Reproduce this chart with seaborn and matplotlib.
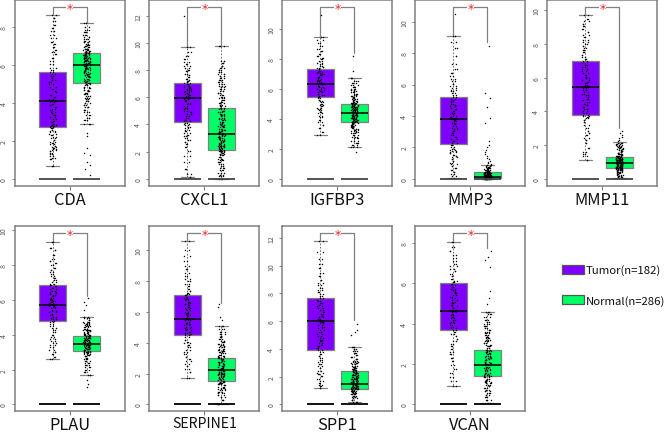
import numpy as np
import pandas as pd
import matplotlib
matplotlib.use("Agg")
import matplotlib.pyplot as plt
from matplotlib.patches import Patch
from matplotlib.ticker import MultipleLocator
import seaborn as sns

sns.set_style("white")
plt.rcParams['font.family'] = ['Noto Sans CJK SC', 'DejaVu Sans']

genes = ["CDA", "CXCL1", "IGFBP3", "MMP3", "MMP11", "PLAU", "SERPINE1", "SPP1", "VCAN"]
groups = ["Tumor", "Normal"]
legend_labels = ["Tumor(n=182)", "Normal(n=286)"]

# whisker low, q1, median, q3, whisker high
tumor_box = [
    [0.65, 2.75, 4.12, 5.65, 8.6],
    [0.1, 4.15, 5.93, 7.05, 9.7],
    [2.9, 5.45, 6.35, 7.35, 9.45],
    [0.05, 2.2, 3.8, 5.2, 9.1],
    [1.1, 3.8, 5.45, 7.0, 9.7],
    [2.6, 4.8, 5.72, 6.85, 9.35],
    [1.7, 4.5, 5.55, 7.1, 10.6],
    [1.15, 3.9, 6.0, 7.7, 11.75],
    [0.9, 3.7, 4.65, 6.0, 8.05],
]
normal_box = [
    [2.9, 5.03, 6.0, 6.65, 8.2],
    [0.02, 2.12, 3.3, 5.2, 9.8],
    [2.1, 3.82, 4.4, 5.0, 6.7],
    [0.0, 0.03, 0.13, 0.42, 0.9],
    [0.03, 0.62, 0.93, 1.28, 2.2],
    [1.7, 3.05, 3.45, 3.95, 5.05],
    [0.05, 1.55, 2.2, 3.0, 5.05],
    [0.2, 1.1, 1.5, 2.4, 4.15],
    [0.05, 1.4, 1.95, 2.7, 4.6],
]

# upper tick-scale limit of each panel and where the bracket legs stop
y_tops = [9.4, 13.13, 11.9, 11.36, 10.59, 10.23, 11.54, 12.84, 8.83]
left_leg_end = [8.6, 9.7, 9.45, 9.1, 9.7, 9.35, 10.6, 11.75, 8.05]
right_leg_end = [8.2, 9.8, 8.4, 8.7, 3.0, 6.24, 6.55, 6.1, 7.75]

# thinned reading of the dots, far fewer than the real n
tumor_points = [
    [0.65, 1.05, 1.12, 1.22, 1.31, 1.38, 1.44, 1.52, 1.57, 1.63, 1.7, 1.74, 1.83, 1.88, 1.93, 2.04, 2.13, 2.22, 2.31, 2.38, 2.46, 2.52, 2.58, 2.66, 2.71, 2.8, 2.84, 2.91, 2.97, 3.06, 3.15, 3.28, 3.37, 3.44, 3.52, 3.6, 3.68, 3.79, 3.88, 3.95, 4.03, 4.1, 4.14, 4.22, 4.31, 4.42, 4.55, 4.63, 4.74, 4.86, 4.97, 5.08, 5.2, 5.33, 5.41, 5.52, 5.6, 5.73, 5.85, 6.02, 6.2, 6.37, 6.55, 6.68, 6.8, 6.95, 7.1, 7.22, 7.4, 7.58, 7.8, 7.96, 8.1, 8.3, 8.48, 8.6],
    [0.1, 0.35, 0.72, 1.25, 1.7, 2.05, 2.32, 2.55, 2.7, 2.86, 2.98, 3.12, 3.25, 3.38, 3.5, 3.6, 3.72, 3.84, 3.93, 4.02, 4.12, 4.24, 4.36, 4.5, 4.62, 4.76, 4.88, 5.0, 5.12, 5.24, 5.36, 5.48, 5.58, 5.7, 5.8, 5.9, 5.97, 6.06, 6.14, 6.22, 6.3, 6.38, 6.46, 6.55, 6.62, 6.7, 6.78, 6.86, 6.94, 7.02, 7.1, 7.18, 7.26, 7.36, 7.48, 7.6, 7.74, 7.9, 8.03, 8.18, 8.32, 8.46, 8.62, 8.8, 9.05, 9.3, 9.7, 12.0],
    [2.9, 3.15, 3.4, 3.62, 3.78, 3.95, 4.1, 4.22, 4.36, 4.45, 4.58, 4.66, 4.74, 4.83, 4.92, 5.0, 5.1, 5.18, 5.28, 5.36, 5.45, 5.52, 5.6, 5.68, 5.76, 5.84, 5.92, 6.0, 6.08, 6.15, 6.22, 6.3, 6.37, 6.44, 6.52, 6.6, 6.68, 6.75, 6.82, 6.9, 6.98, 7.06, 7.14, 7.22, 7.3, 7.38, 7.46, 7.55, 7.64, 7.74, 7.86, 7.98, 8.08, 8.2, 8.35, 8.5, 8.68, 8.85, 9.05, 9.25, 9.45, 10.9],
    [0.05, 0.18, 0.3, 0.42, 0.56, 0.7, 0.82, 0.95, 1.02, 1.14, 1.26, 1.38, 1.46, 1.54, 1.62, 1.68, 1.76, 1.84, 1.92, 2.02, 2.14, 2.28, 2.42, 2.55, 2.68, 2.8, 2.9, 3.02, 3.14, 3.24, 3.36, 3.46, 3.56, 3.65, 3.74, 3.83, 3.92, 4.02, 4.12, 4.22, 4.32, 4.42, 4.52, 4.62, 4.7, 4.78, 4.86, 4.94, 5.02, 5.1, 5.2, 5.32, 5.44, 5.56, 5.68, 5.8, 5.92, 6.04, 6.2, 6.38, 6.55, 6.72, 7.0, 7.3, 7.8, 8.3, 8.7, 9.1, 10.5],
    [1.1, 1.35, 1.48, 1.6, 1.85, 2.1, 2.3, 2.45, 2.6, 2.72, 2.85, 3.0, 3.18, 3.35, 3.5, 3.58, 3.65, 3.72, 3.8, 3.9, 4.02, 4.14, 4.26, 4.36, 4.46, 4.56, 4.66, 4.76, 4.86, 4.96, 5.06, 5.16, 5.26, 5.36, 5.46, 5.56, 5.66, 5.76, 5.86, 5.96, 6.06, 6.16, 6.28, 6.4, 6.52, 6.64, 6.76, 6.88, 7.0, 7.12, 7.24, 7.36, 7.5, 7.62, 7.74, 7.86, 7.98, 8.12, 8.26, 8.4, 8.56, 8.72, 8.88, 9.04, 9.2, 9.36, 9.5, 9.7],
    [2.6, 2.75, 2.88, 3.0, 3.15, 3.3, 3.42, 3.55, 3.66, 3.78, 3.88, 4.0, 4.14, 4.28, 4.4, 4.52, 4.62, 4.72, 4.8, 4.88, 4.96, 5.04, 5.12, 5.2, 5.28, 5.36, 5.44, 5.52, 5.6, 5.66, 5.72, 5.78, 5.84, 5.9, 5.96, 6.02, 6.08, 6.14, 6.2, 6.26, 6.32, 6.38, 6.46, 6.54, 6.62, 6.7, 6.78, 6.86, 6.94, 7.04, 7.14, 7.24, 7.36, 7.48, 7.6, 7.72, 7.86, 8.0, 8.12, 8.24, 8.36, 8.6, 8.85, 9.0, 9.35],
    [1.7, 2.1, 2.3, 2.5, 2.65, 2.8, 2.95, 3.1, 3.25, 3.4, 3.55, 3.7, 3.82, 3.95, 4.05, 4.2, 4.35, 4.48, 4.56, 4.64, 4.72, 4.8, 4.88, 4.96, 5.04, 5.12, 5.2, 5.28, 5.36, 5.44, 5.5, 5.56, 5.62, 5.7, 5.78, 5.86, 5.94, 6.02, 6.1, 6.18, 6.26, 6.34, 6.42, 6.5, 6.58, 6.66, 6.74, 6.82, 6.9, 6.98, 7.06, 7.14, 7.24, 7.36, 7.5, 7.66, 7.82, 8.0, 8.14, 8.3, 8.5, 8.75, 9.0, 9.3, 9.6, 10.0, 10.6],
    [1.15, 1.3, 1.42, 1.55, 1.7, 1.86, 2.02, 2.16, 2.3, 2.44, 2.6, 2.76, 2.9, 3.06, 3.22, 3.38, 3.52, 3.66, 3.8, 3.92, 4.06, 4.2, 4.32, 4.44, 4.56, 4.68, 4.8, 4.92, 5.06, 5.2, 5.34, 5.48, 5.6, 5.72, 5.84, 5.94, 6.02, 6.1, 6.18, 6.28, 6.4, 6.52, 6.66, 6.8, 6.94, 7.06, 7.18, 7.3, 7.42, 7.54, 7.66, 7.8, 7.95, 8.1, 8.26, 8.42, 8.6, 8.78, 9.0, 9.25, 9.5, 9.8, 10.1, 10.45, 11.0, 11.75],
    [0.9, 1.15, 1.35, 1.55, 1.75, 1.95, 2.15, 2.32, 2.48, 2.62, 2.76, 2.9, 3.02, 3.14, 3.26, 3.38, 3.5, 3.6, 3.7, 3.78, 3.86, 3.94, 4.02, 4.1, 4.18, 4.26, 4.34, 4.42, 4.5, 4.58, 4.64, 4.7, 4.78, 4.86, 4.94, 5.02, 5.1, 5.18, 5.26, 5.34, 5.42, 5.5, 5.58, 5.66, 5.74, 5.82, 5.9, 5.98, 6.06, 6.14, 6.24, 6.36, 6.48, 6.6, 6.72, 6.84, 6.96, 7.1, 7.26, 7.42, 7.6, 7.8, 8.05],
]

normal_points = [
    [0.2, 0.5, 0.72, 0.88, 1.25, 1.35, 1.62, 2.25, 2.42, 2.9, 3.08, 3.22, 3.38, 3.52, 3.64, 3.76, 3.88, 3.98, 4.08, 4.18, 4.28, 4.38, 4.46, 4.54, 4.62, 4.7, 4.78, 4.86, 4.92, 4.98, 5.04, 5.1, 5.16, 5.22, 5.28, 5.34, 5.4, 5.46, 5.52, 5.58, 5.62, 5.68, 5.72, 5.76, 5.82, 5.86, 5.9, 5.94, 5.98, 6.02, 6.06, 6.1, 6.14, 6.18, 6.22, 6.26, 6.3, 6.34, 6.38, 6.42, 6.46, 6.5, 6.54, 6.58, 6.62, 6.66, 6.7, 6.74, 6.78, 6.82, 6.86, 6.92, 6.98, 7.04, 7.1, 7.18, 7.26, 7.36, 7.46, 7.58, 7.72, 7.86, 8.0, 8.2],
    [0.02, 0.18, 0.3, 0.45, 0.62, 0.78, 0.95, 1.1, 1.22, 1.36, 1.48, 1.6, 1.72, 1.82, 1.9, 1.96, 2.02, 2.08, 2.14, 2.2, 2.26, 2.32, 2.38, 2.44, 2.5, 2.56, 2.62, 2.7, 2.78, 2.86, 2.94, 3.02, 3.1, 3.18, 3.24, 3.3, 3.38, 3.46, 3.54, 3.62, 3.7, 3.78, 3.86, 3.94, 4.02, 4.1, 4.2, 4.3, 4.4, 4.5, 4.6, 4.7, 4.8, 4.9, 5.0, 5.1, 5.2, 5.32, 5.44, 5.56, 5.68, 5.8, 5.92, 6.04, 6.16, 6.3, 6.44, 6.58, 6.72, 6.86, 7.0, 7.14, 7.28, 7.42, 7.56, 7.7, 7.84, 7.98, 8.12, 8.3, 8.5, 8.7, 9.8],
    [1.8, 2.1, 2.25, 2.4, 2.55, 2.7, 2.82, 2.94, 3.04, 3.12, 3.2, 3.28, 3.34, 3.4, 3.46, 3.52, 3.58, 3.64, 3.7, 3.76, 3.8, 3.84, 3.88, 3.92, 3.96, 4.0, 4.04, 4.08, 4.12, 4.16, 4.2, 4.24, 4.28, 4.32, 4.36, 4.4, 4.44, 4.48, 4.52, 4.56, 4.6, 4.64, 4.68, 4.72, 4.76, 4.8, 4.84, 4.88, 4.92, 4.96, 5.0, 5.04, 5.08, 5.14, 5.2, 5.26, 5.32, 5.38, 5.44, 5.52, 5.6, 5.68, 5.76, 5.84, 5.92, 6.0, 6.12, 6.24, 6.4, 6.55, 6.7, 7.2, 8.2],
    [0.0, 0.0, 0.01, 0.01, 0.02, 0.02, 0.03, 0.03, 0.04, 0.04, 0.05, 0.05, 0.06, 0.07, 0.08, 0.08, 0.09, 0.1, 0.1, 0.11, 0.12, 0.13, 0.14, 0.15, 0.16, 0.17, 0.18, 0.19, 0.2, 0.21, 0.22, 0.23, 0.24, 0.26, 0.28, 0.3, 0.32, 0.34, 0.36, 0.38, 0.4, 0.42, 0.44, 0.46, 0.48, 0.5, 0.54, 0.58, 0.62, 0.66, 0.7, 0.75, 0.8, 0.86, 0.92, 1.0, 1.08, 1.16, 1.25, 1.35, 1.45, 1.55, 1.7, 1.85, 2.0, 2.15, 2.4, 3.56, 3.9, 4.6, 5.13, 5.45, 8.47],
    [0.03, 0.1, 0.16, 0.22, 0.28, 0.33, 0.38, 0.42, 0.46, 0.5, 0.54, 0.57, 0.6, 0.62, 0.64, 0.66, 0.68, 0.7, 0.72, 0.74, 0.76, 0.78, 0.8, 0.82, 0.84, 0.86, 0.88, 0.9, 0.92, 0.94, 0.96, 0.98, 1.0, 1.02, 1.04, 1.06, 1.08, 1.1, 1.12, 1.14, 1.16, 1.18, 1.2, 1.22, 1.25, 1.28, 1.31, 1.34, 1.38, 1.42, 1.46, 1.5, 1.55, 1.6, 1.66, 1.72, 1.78, 1.84, 1.9, 1.96, 2.02, 2.08, 2.15, 2.22, 2.3, 2.4, 2.5, 2.6, 2.72, 2.85],
    [1.0, 1.2, 1.4, 1.7, 1.85, 2.0, 2.15, 2.28, 2.4, 2.5, 2.6, 2.68, 2.76, 2.84, 2.9, 2.96, 3.0, 3.04, 3.08, 3.12, 3.16, 3.2, 3.24, 3.28, 3.32, 3.36, 3.4, 3.44, 3.48, 3.52, 3.56, 3.6, 3.64, 3.68, 3.72, 3.76, 3.8, 3.84, 3.88, 3.92, 3.96, 4.0, 4.05, 4.1, 4.15, 4.2, 4.25, 4.3, 4.36, 4.42, 4.48, 4.54, 4.6, 4.68, 4.76, 4.85, 4.95, 5.05, 5.4, 5.7, 5.9, 6.1],
    [0.05, 0.28, 0.45, 0.6, 0.72, 0.82, 0.92, 1.0, 1.08, 1.16, 1.24, 1.3, 1.36, 1.42, 1.48, 1.54, 1.6, 1.66, 1.72, 1.78, 1.84, 1.9, 1.94, 1.98, 2.02, 2.06, 2.1, 2.14, 2.2, 2.26, 2.32, 2.38, 2.44, 2.5, 2.56, 2.62, 2.68, 2.74, 2.8, 2.86, 2.92, 2.98, 3.06, 3.14, 3.22, 3.3, 3.38, 3.46, 3.54, 3.62, 3.7, 3.78, 3.86, 3.94, 4.02, 4.12, 4.22, 4.34, 4.46, 4.58, 4.72, 4.88, 5.05, 5.5, 5.65, 6.3, 6.5],
    [0.2, 0.35, 0.46, 0.56, 0.64, 0.72, 0.78, 0.84, 0.9, 0.95, 1.0, 1.04, 1.08, 1.12, 1.16, 1.2, 1.24, 1.28, 1.32, 1.36, 1.4, 1.44, 1.48, 1.52, 1.56, 1.6, 1.64, 1.68, 1.72, 1.76, 1.8, 1.84, 1.88, 1.92, 1.96, 2.0, 2.05, 2.1, 2.15, 2.2, 2.25, 2.3, 2.35, 2.4, 2.46, 2.52, 2.58, 2.64, 2.72, 2.8, 2.88, 2.96, 3.06, 3.16, 3.28, 3.4, 3.55, 3.7, 3.85, 4.0, 4.15, 5.0, 5.2, 5.4, 5.8],
    [0.05, 0.2, 0.35, 0.48, 0.58, 0.66, 0.74, 0.82, 0.9, 0.98, 1.04, 1.1, 1.16, 1.22, 1.28, 1.34, 1.4, 1.46, 1.52, 1.58, 1.64, 1.7, 1.76, 1.82, 1.88, 1.94, 2.0, 2.06, 2.12, 2.18, 2.24, 2.3, 2.36, 2.42, 2.48, 2.54, 2.6, 2.66, 2.72, 2.8, 2.88, 2.96, 3.04, 3.12, 3.2, 3.28, 3.36, 3.44, 3.52, 3.6, 3.68, 3.78, 3.88, 3.98, 4.08, 4.2, 4.34, 4.48, 4.6, 5.0, 5.3, 5.6, 6.8, 7.15, 7.3, 7.6],
]

palette = {"Tumor": "#8000FF", "Normal": "#00FF66"}
grey = "#808080"
label_sizes = [11.8, 11.8, 11.8, 11.8, 11.8, 11.8, 10.2, 11.8, 11.8]

W, H = 667, 435
x_edges = [14.7, 149.3, 282.3, 415.3, 547.3]
y_edges = [(1.3, 186.7), (227.3, 412.3)]


def thicken(points, box, times):
    # the lists hold a thinned reading, repeat the in-whisker part so density is near the real n
    inner = [v for v in points if box[0] <= v <= box[4]]
    return points + inner * times


fig = plt.figure(figsize=(W / 100, H / 100), dpi=100)

for i, gene in enumerate(genes):
    row = 0 if i < 5 else 1
    left = x_edges[i if i < 5 else i - 5]
    top_px, bottom_px = y_edges[row]
    ax = fig.add_axes([left / W, 1 - bottom_px / H, 110 / W, (bottom_px - top_px) / H])

    box_df = pd.DataFrame({
        "group": ["Tumor"] * 5 + ["Normal"] * 5,
        "value": tumor_box[i] + normal_box[i],
    })
    t_vals = thicken(tumor_points[i], tumor_box[i], 1)
    n_vals = thicken(normal_points[i], normal_box[i], 2)
    point_df = pd.DataFrame({
        "group": ["Tumor"] * len(t_vals) + ["Normal"] * len(n_vals),
        "value": t_vals + n_vals,
    })

    sns.boxplot(data=box_df, x="group", y="value", hue="group", order=groups,
                palette=palette, legend=False, dodge=False, width=0.79, whis=np.inf,
                linecolor=grey, linewidth=0.9, saturation=1, ax=ax,
                whiskerprops={"linestyle": (0, (2, 2)), "color": "#555555", "linewidth": 0.6},
                capprops={"color": grey, "linewidth": 0.9},
                medianprops={"color": "black", "linewidth": 1.1})
    sns.stripplot(data=point_df, x="group", y="value", order=groups, color="black",
                  size=1.05, jitter=0.1, linewidth=0, ax=ax, zorder=4)

    top = y_tops[i]
    bottom = -0.0385 * top
    ax.set_xlim(-1.118, 2.115)

    # zero bars under each box
    base_color = "#444444" if row == 0 else "black"
    ax.hlines([0, 0], [-0.395, 0.605], [0.395, 1.395], color=base_color, linewidth=1.3, zorder=5)

    # significance bracket
    level = top - 0.0375 * (top - bottom)
    ax.plot([0, 0, 1, 1], [left_leg_end[i], level, level, right_leg_end[i]],
            color=grey, linewidth=0.9, zorder=3)
    ax.text(0.5, level, "*", color="#FF2020", fontsize=9, ha="center", va="center_baseline",
            family="DejaVu Sans", zorder=6, bbox={"facecolor": "white", "edgecolor": "none", "pad": 0.3})

    ax.set_xticks([0.5])
    ax.set_xticklabels([gene], fontsize=label_sizes[i])
    ax.set_xlabel("")
    ax.set_ylabel("")
    ax.yaxis.set_major_locator(MultipleLocator(2))
    ax.set_ylim(bottom, top)
    ax.tick_params(axis="x", bottom=True, length=3, width=0.8, color=grey, pad=0.5, labelcolor="#111111")
    ax.tick_params(axis="y", left=True, length=2.5, width=0.7, color=grey, pad=2.5,
                   labelsize=5, labelcolor="#555555", labelrotation=90)
    for lab in ax.get_yticklabels():
        lab.set_va("center")
    for spine in ax.spines.values():
        spine.set_color(grey)
        spine.set_linewidth(1.1)

handles = [Patch(facecolor=palette[g], edgecolor="#555555", linewidth=0.9) for g in groups]
fig.legend(handles, legend_labels, loc="upper left", bbox_to_anchor=(558.2 / W, 1 - 262 / H),
           frameon=False, fontsize=8.2, handlelength=1.93, handleheight=0.9,
           labelspacing=1.7, handletextpad=0.2, borderpad=0.3, borderaxespad=0, labelcolor="#111111")

fig.savefig("out.png", dpi=100)
